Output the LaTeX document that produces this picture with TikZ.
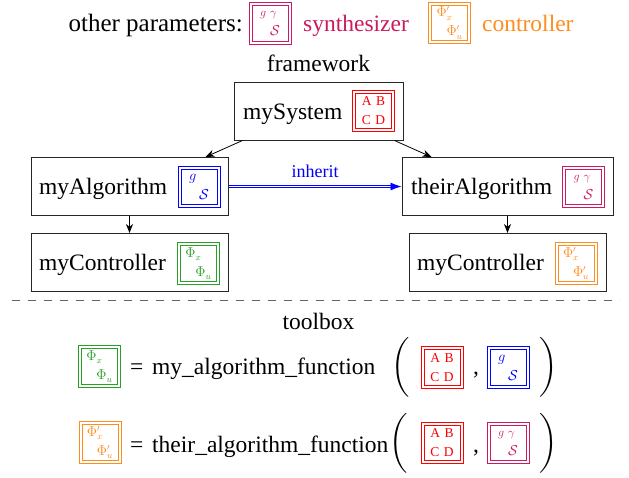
\documentclass[tikz,border=0pt]{standalone}
\usepackage{amsmath}
\usepackage{fontspec}
\setmainfont{Liberation Serif}
\usetikzlibrary{arrows.meta}
\definecolor{syncol}{RGB}{205,25,95}
\definecolor{ctrlcol}{RGB}{255,140,30}
\definecolor{phicol}{RGB}{40,160,40}
\definecolor{abcdcol}{RGB}{255,0,0}
\definecolor{gscol}{RGB}{0,0,255}
\tikzset{
  big/.style={font=\fontsize{23.5}{28}\selectfont, inner sep=0pt},
  mainbox/.style={draw=black!85, line width=1pt, minimum width=#1, minimum height=58, inner sep=0pt},
  parbox/.style={draw=#1, text=#1, line width=1pt,
    minimum width=42, minimum height=41.5, inner sep=0pt, align=left,
    font=\fontsize{13.5}{19}\selectfont,
    path picture={\draw[#1, line width=1pt]
      ([shift={(3pt,3pt)}]path picture bounding box.south west) rectangle
      ([shift={(-3pt,-3pt)}]path picture bounding box.north east);}},
  arr/.style={draw=black, line width=0.8pt, -{Stealth[length=9pt,width=7pt]}},
  paren/.style={font=\fontsize{23.5}{28}\selectfont, inner sep=0pt},
}
\newcommand{\cABCD}{A\,\,B\\C\,\,D}
\newcommand{\cGS}{$g$\\\hspace*{10pt}$\mathcal{S}$}
\newcommand{\cGGS}{{\fontsize{12}{12}\selectfont$g\,\,\gamma$}\\\hspace*{10pt}$\mathcal{S}$}
\newcommand{\cPhi}{$\Phi_x$\\\hspace*{10pt}$\Phi_u$}
\newcommand{\cPhiP}{$\Phi'_x$\\\hspace*{10pt}$\Phi'_u$}
\newcommand{\bigpar}[1]{$\left#1\vrule height 25pt depth 25pt width 0pt\right.$}
\newcommand{\bigparR}[1]{$\left.\vrule height 25pt depth 25pt width 0pt\right#1$}
\begin{document}
\begin{tikzpicture}[x=1pt,y=-1pt]
\useasboundingbox (0,0) rectangle (629,477);
% top legend
\node[big, anchor=base east, font=\fontsize{25}{28}\selectfont] (other) at (243,31) {other parameters:};
\node[parbox=syncol] (legsyn) at (270,23.5) {\cGGS};
\node[big, anchor=base west, text=syncol] (synt) at (303,31) {synthesizer};
\node[parbox=ctrlcol] (legctrl) at (449.5,23) {\cPhiP};
\node[big, anchor=base west, text=ctrlcol] (ctrlt) at (482,31) {controller};
% framework
\node[big, anchor=base] (fw) at (318.5,71) {framework};
\node[mainbox=169] (sys) at (318.5,111) {};
\node[big, anchor=base west] (systxt) at (243,119) {mySystem};
\node[parbox=abcdcol] (sysp) at (373.5,111) {\cABCD};
\node[mainbox=197] (alg) at (129.5,186.5) {};
\node[big, anchor=base west] (algtxt) at (39,194.5) {myAlgorithm};
\node[parbox=gscol] (algp) at (199,187) {\cGS};
\node[mainbox=211] (their) at (507.5,186.5) {};
\node[big, anchor=base west] (theirtxt) at (411,194.5) {theirAlgorithm};
\node[parbox=syncol] (theirp) at (583.5,187) {\cGGS};
\node[mainbox=197] (ctrla) at (129.5,262.5) {};
\node[big, anchor=base west] (ctrlatxt) at (39,270.5) {myController};
\node[parbox=phicol] (ctrlap) at (198.5,263.5) {\cPhi};
\node[mainbox=197] (ctrlb) at (507.5,262.5) {};
\node[big, anchor=base west] (ctrlbtxt) at (417,270.5) {myController};
\node[parbox=ctrlcol] (ctrlbp) at (576,263.5) {\cPhiP};
% connectors
\draw[arr] ([xshift=9pt]sys.south west) -- ([xshift=-23pt]alg.north east);
\draw[arr] ([xshift=-9pt]sys.south east) -- ([xshift=30pt]their.north west);
\draw[arr] (alg.south) -- (ctrla.north);
\draw[arr] (their.south) -- (ctrlb.north);
\draw[draw=gscol, double=white, double distance=1.6pt, line width=0.8pt, -{Latex[length=11pt,width=8pt]}]
  (alg.east) -- (their.west) node[midway, above=8pt, inner sep=0pt, text=gscol, font=\fontsize{18}{20}\selectfont] (inh) {inherit};
% separator
\draw[black!60, line width=1pt, dash pattern=on 8pt off 8pt] (12,300.5) -- (620,300.5);
% toolbox
\node[big, anchor=base] (tb) at (318.5,329) {toolbox};
\node[parbox=phicol] (res1) at (99.5,366.5) {\cPhi};
\node[big, anchor=base west] (eq1) at (130,374) {=};
\node[big, anchor=base west] (fn1) at (152,374) {my\_algorithm\_function};
\node[paren] (lp1) at (401,368) {\bigpar(};
\node[parbox=abcdcol] (a1) at (442,367.5) {\cABCD};
\node[big, anchor=base] (c1) at (476,374) {,};
\node[parbox=gscol] (g1) at (508,367.5) {\cGS};
\node[paren] (rp1) at (548,368) {\bigparR)};
\node[parbox=ctrlcol] (res2) at (100,442.5) {\cPhiP};
\node[big, anchor=base west] (eq2) at (130,452) {=};
\node[big, anchor=base west] (fn2) at (152,452) {their\_algorithm\_function};
\node[paren] (lp2) at (399,444) {\bigpar(};
\node[parbox=abcdcol] (a2) at (442,443) {\cABCD};
\node[big, anchor=base] (c2) at (476,452) {,};
\node[parbox=syncol] (g2) at (508,443) {\cGGS};
\node[paren] (rp2) at (548,444) {\bigparR)};
\end{tikzpicture}
\end{document}
